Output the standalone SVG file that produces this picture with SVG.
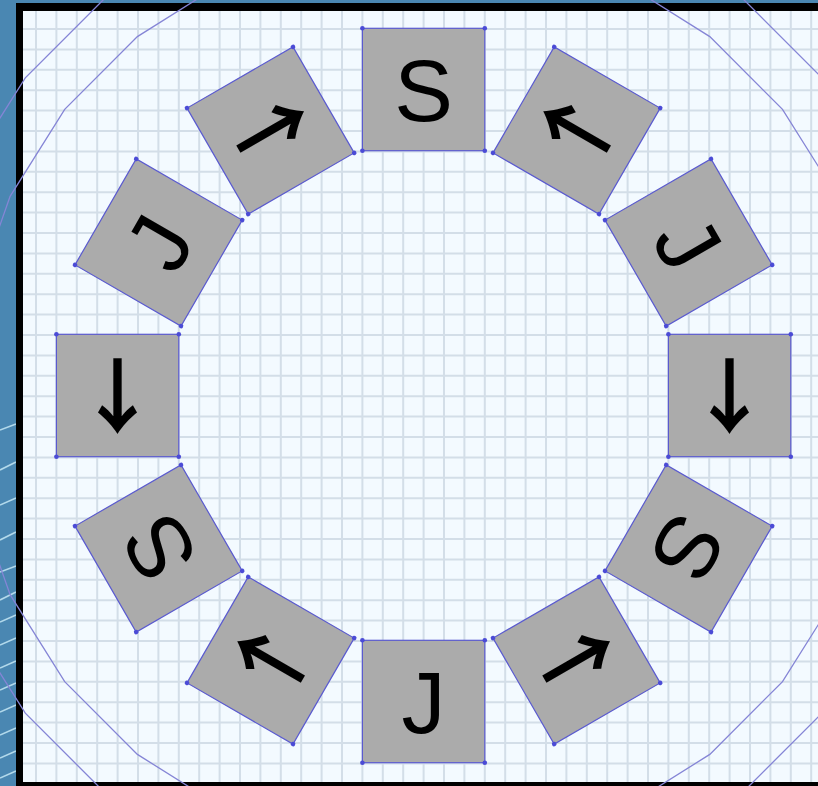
<svg xmlns="http://www.w3.org/2000/svg" width="818" height="786" viewBox="0 0 818 786">
<style>
.sq{fill:#ababab;stroke:#5a5acf;stroke-width:1.2}
.dot{fill:#4b4bd6}
.g{font-family:"Liberation Sans",Arial,sans-serif;font-size:88px;fill:#000;text-anchor:middle}
.a{font-family:"Noto Sans CJK JP","Noto Sans CJK SC",sans-serif;font-weight:bold;font-size:82px;fill:#000;text-anchor:middle}
.poly{fill:none;stroke:#8585d6;stroke-width:1.3}
.grid{fill:none;stroke:#d3dee8;stroke-width:2}
.streak{stroke:#cdeefa;stroke-width:1.6;opacity:.8}
</style>
<defs>
<g id="sqbase">
<rect class="sq" x="362.4" y="28.3" width="122.4" height="122.4"/>
<circle class="dot" cx="362.4" cy="28.3" r="2.3"/>
<circle class="dot" cx="484.8" cy="28.3" r="2.3"/>
<circle class="dot" cx="484.8" cy="150.7" r="2.3"/>
<circle class="dot" cx="362.4" cy="150.7" r="2.3"/>
</g>
</defs>
<rect x="0" y="0" width="818" height="786" fill="#4a87b2"/>
<g id="streaks">
<line class="streak" x1="0" y1="430" x2="16" y2="424"/>
<line class="streak" x1="0" y1="470" x2="16" y2="462"/>
<line class="streak" x1="0" y1="505" x2="16" y2="498"/>
<line class="streak" x1="0" y1="540" x2="16" y2="532"/>
<line class="streak" x1="0" y1="572" x2="16" y2="566"/>
<line class="streak" x1="0" y1="600" x2="16" y2="592"/>
<line class="streak" x1="0" y1="622" x2="16" y2="615"/>
<line class="streak" x1="0" y1="645" x2="16" y2="638"/>
<line class="streak" x1="0" y1="668" x2="16" y2="661"/>
<line class="streak" x1="0" y1="690" x2="16" y2="683"/>
<line class="streak" x1="0" y1="712" x2="16" y2="705"/>
<line class="streak" x1="0" y1="735" x2="16" y2="728"/>
<line class="streak" x1="0" y1="758" x2="16" y2="751"/>
<line class="streak" x1="0" y1="778" x2="16" y2="771"/>
</g>
<rect x="16" y="3" width="802" height="783" fill="#000"/>
<rect x="23" y="11" width="795" height="771" fill="#f3faff"/>
<path class="grid" d="M36 11V782M56.4 11V782M76.8 11V782M97.2 11V782M117.6 11V782M138 11V782M158.4 11V782M178.8 11V782M199.2 11V782M219.6 11V782M240 11V782M260.4 11V782M280.8 11V782M301.2 11V782M321.6 11V782M342 11V782M362.4 11V782M382.8 11V782M403.2 11V782M423.6 11V782M444 11V782M464.4 11V782M484.8 11V782M505.2 11V782M525.6 11V782M546 11V782M566.4 11V782M586.8 11V782M607.2 11V782M627.6 11V782M648 11V782M668.4 11V782M688.8 11V782M709.2 11V782M729.6 11V782M750 11V782M770.4 11V782M790.8 11V782M811.2 11V782M23 29H818M23 49.4H818M23 69.8H818M23 90.2H818M23 110.6H818M23 131H818M23 151.4H818M23 171.8H818M23 192.2H818M23 212.6H818M23 233H818M23 253.4H818M23 273.8H818M23 294.2H818M23 314.6H818M23 335H818M23 355.4H818M23 375.8H818M23 396.2H818M23 416.6H818M23 437H818M23 457.4H818M23 477.8H818M23 498.2H818M23 518.6H818M23 539H818M23 559.4H818M23 579.8H818M23 600.2H818M23 620.6H818M23 641H818M23 661.4H818M23 681.8H818M23 702.2H818M23 722.6H818M23 743H818M23 763.4H818"/>
<g id="polygons">
<polygon class="poly" points="423.6,-63.5 525.7,-52 622.8,-18 709.8,36.6 782.5,109.3 837.1,196.3 871.1,293.4 882.6,395.5 871.1,497.6 837.1,594.7 782.5,681.7 709.8,754.4 622.8,809 525.7,843 423.6,854.5 321.5,843 224.4,809 137.4,754.4 64.7,681.7 10.1,594.7 -23.9,497.6 -35.4,395.5 -23.9,293.4 10.1,196.3 64.7,109.3 137.4,36.6 224.4,-18 321.5,-52"/>
<polygon class="poly" points="423.6,-114 537,-101.2 644.7,-63.5 741.3,-2.8 821.9,77.8 882.6,174.4 920.3,282.1 933.1,395.5 920.3,508.9 882.6,616.6 821.9,713.2 741.3,793.8 644.7,854.5 537,892.2 423.6,905 310.2,892.2 202.5,854.5 105.9,793.8 25.3,713.2 -35.4,616.6 -73.1,508.9 -85.9,395.5 -73.1,282.1 -35.4,174.4 25.3,77.8 105.9,-2.8 202.5,-63.5 310.2,-101.2"/>
</g>
<g id="tiles">
<g id="tile-0"><use href="#sqbase"/><text class="g" transform="translate(423.6,89.5)" y="31.5">S</text></g>
<g id="tile-30"><use href="#sqbase" transform="rotate(30 423.6 395.5)"/><text class="a" transform="translate(576.6,130.5) rotate(120)" y="31.7">↓</text></g>
<g id="tile-60"><use href="#sqbase" transform="rotate(60 423.6 395.5)"/><text class="g" transform="translate(688.6,242.5) rotate(60)" y="31.5">J</text></g>
<g id="tile-90"><use href="#sqbase" transform="rotate(90 423.6 395.5)"/><text class="a" transform="translate(729.6,395.5)" y="31.7">↓</text></g>
<g id="tile-120"><use href="#sqbase" transform="rotate(120 423.6 395.5)"/><text class="g" transform="translate(688.6,548.5) rotate(120)" y="31.5">S</text></g>
<g id="tile-150"><use href="#sqbase" transform="rotate(150 423.6 395.5)"/><text class="a" transform="translate(576.6,660.5) rotate(240)" y="31.7">↓</text></g>
<g id="tile-180"><use href="#sqbase" transform="rotate(180 423.6 395.5)"/><text class="g" transform="translate(423.6,701.5)" y="31.5">J</text></g>
<g id="tile-210"><use href="#sqbase" transform="rotate(210 423.6 395.5)"/><text class="a" transform="translate(270.6,660.5) rotate(120)" y="31.7">↓</text></g>
<g id="tile-240"><use href="#sqbase" transform="rotate(240 423.6 395.5)"/><text class="g" transform="translate(158.6,548.5) rotate(240)" y="31.5">S</text></g>
<g id="tile-270"><use href="#sqbase" transform="rotate(270 423.6 395.5)"/><text class="a" transform="translate(117.6,395.5)" y="31.7">↓</text></g>
<g id="tile-300"><use href="#sqbase" transform="rotate(300 423.6 395.5)"/><text class="g" transform="translate(158.6,242.5) rotate(300)" y="31.5">J</text></g>
<g id="tile-330"><use href="#sqbase" transform="rotate(330 423.6 395.5)"/><text class="a" transform="translate(270.6,130.5) rotate(240)" y="31.7">↓</text></g>
</g>
</svg>
